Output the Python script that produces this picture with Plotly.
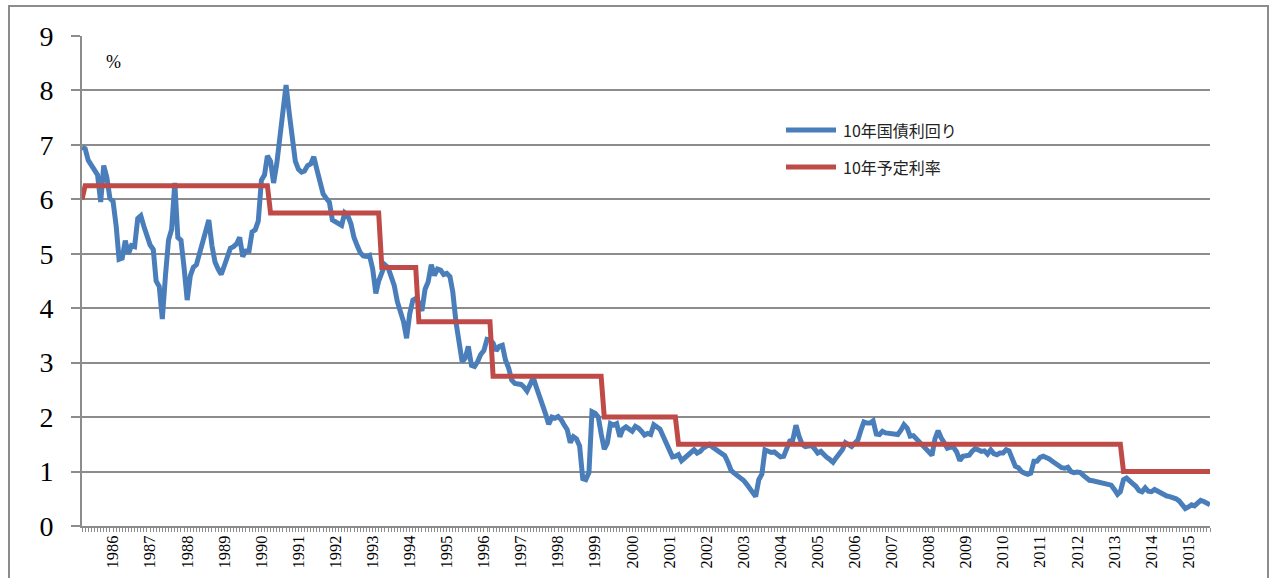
import pandas as pd
import plotly.graph_objects as go

# Monthly observations, March 1985 to August 2015
months = pd.date_range("1985-03-01", "2015-08-01", freq="MS")

# 10-year JGB yield (%), monthly
jgb_10y = [
    # 1985 (Mar-Dec)
    6.95, 6.93, 6.72, 6.63, 6.55, 6.45, 5.95, 6.62, 6.40, 6.02,
    # 1986
    5.96, 5.50, 4.90, 4.92, 5.24, 5.00, 5.15, 5.13, 5.65, 5.70, 5.50, 5.34,
    # 1987
    5.16, 5.08, 4.50, 4.40, 3.80, 4.60, 5.25, 5.45, 6.30, 5.30, 5.25, 4.75,
    # 1988
    4.15, 4.60, 4.75, 4.80, 5.00, 5.15, 5.40, 5.62, 5.15, 4.85, 4.72, 4.62,
    # 1989
    4.78, 4.92, 5.10, 5.13, 5.18, 5.30, 4.95, 5.05, 5.05, 5.40, 5.44, 5.60,
    # 1990
    6.35, 6.45, 6.80, 6.70, 6.30, 6.65, 7.10, 7.60, 8.10, 7.60, 7.10, 6.70,
    # 1991
    6.55, 6.50, 6.52, 6.62, 6.65, 6.78, 6.55, 6.35, 6.10, 6.02, 5.95, 5.62,
    # 1992
    5.59, 5.57, 5.52, 5.75, 5.70, 5.55, 5.30, 5.15, 5.02, 4.96, 4.95, 4.97,
    # 1993
    4.72, 4.27, 4.50, 4.65, 4.80, 4.75, 4.55, 4.42, 4.12, 3.96, 3.75, 3.45,
    # 1994
    3.90, 4.15, 4.18, 4.10, 3.95, 4.35, 4.48, 4.80, 4.60, 4.72, 4.70, 4.62,
    # 1995
    4.64, 4.58, 4.30, 3.75, 3.35, 3.02, 3.08, 3.30, 2.95, 2.93, 3.02, 3.15,
    # 1996
    3.22, 3.43, 3.42, 3.36, 3.22, 3.30, 3.32, 3.05, 2.90, 2.68, 2.62, 2.62,
    # 1997
    2.60, 2.55, 2.48, 2.60, 2.73, 2.55, 2.35, 2.22, 2.05, 1.87, 2.00, 1.98,
    # 1998
    2.01, 1.95, 1.86, 1.77, 1.53, 1.64, 1.60, 1.47, 0.87, 0.85, 0.98, 2.10,
    # 1999
    2.07, 2.00, 1.70, 1.41, 1.52, 1.88, 1.85, 1.88, 1.64, 1.78, 1.82, 1.77,
    # 2000
    1.74, 1.83, 1.80, 1.74, 1.67, 1.70, 1.68, 1.86, 1.83, 1.78, 1.65, 1.52,
    # 2001
    1.36, 1.27, 1.28, 1.31, 1.20, 1.25, 1.30, 1.35, 1.40, 1.34, 1.37, 1.43,
    # 2002
    1.47, 1.50, 1.45, 1.41, 1.38, 1.34, 1.29, 1.17, 1.02, 0.97, 0.93, 0.88,
    # 2003
    0.84, 0.77, 0.70, 0.60, 0.54, 0.85, 0.95, 1.40, 1.37, 1.35, 1.36, 1.32,
    # 2004
    1.27, 1.28, 1.40, 1.56, 1.58, 1.85, 1.65, 1.50, 1.46, 1.48, 1.48, 1.42,
    # 2005
    1.34, 1.37, 1.30, 1.26, 1.22, 1.17, 1.25, 1.32, 1.40, 1.53, 1.48, 1.46,
    # 2006
    1.52, 1.58, 1.75, 1.91, 1.89, 1.89, 1.93, 1.69, 1.68, 1.74, 1.71, 1.70,
    # 2007
    1.69, 1.68, 1.68, 1.76, 1.86, 1.80, 1.65, 1.66, 1.60, 1.54, 1.49, 1.43,
    # 2008
    1.38, 1.30, 1.60, 1.75, 1.62, 1.52, 1.43, 1.45, 1.44, 1.36, 1.20, 1.28,
    # 2009
    1.28, 1.30, 1.37, 1.42, 1.40, 1.37, 1.38, 1.32, 1.40, 1.33, 1.31, 1.34,
    # 2010
    1.34, 1.40, 1.38, 1.20, 1.10, 1.07, 1.00, 0.97, 0.95, 0.97, 1.19, 1.19,
    # 2011
    1.26, 1.28, 1.26, 1.23, 1.19, 1.14, 1.10, 1.07, 1.06, 1.08, 1.00, 0.98,
    # 2012
    0.99, 0.98, 0.93, 0.88, 0.84, 0.83, 0.82, 0.80, 0.79, 0.77, 0.78, 0.75,
    # 2013
    0.67, 0.58, 0.63, 0.85, 0.88, 0.84, 0.78, 0.73, 0.65, 0.63, 0.70, 0.64,
    # 2014
    0.63, 0.67, 0.64, 0.61, 0.58, 0.55, 0.54, 0.53, 0.50, 0.46, 0.38, 0.32,
    # 2015 (Jan-Aug)
    0.35, 0.39, 0.37, 0.42, 0.47, 0.45, 0.41, 0.39,
]

# Assumed interest rate (%): month each level took effect
rate_change_months = ["1985-03", "1985-04", "1990-04", "1993-04", "1994-04",
                      "1996-04", "1999-04", "2001-04", "2013-04"]
rate_change_values = [6.0, 6.25, 5.75, 4.75, 3.75, 2.75, 2.0, 1.5, 1.0]

year_labels = [str(y) for y in range(1986, 2016)]

series_names = ["10年国債利回り", "10年予定利率"]
series_colors = ["#4a7ebb", "#be4b48"]

assert len(jgb_10y) == len(months)

assumed = pd.Series(index=months, dtype=float)
for m, v in zip(rate_change_months, rate_change_values):
    assumed[pd.Timestamp(m + "-01")] = v
assumed = assumed.ffill()

grey = "#8c8c8c"
serif = "Liberation Serif, Times New Roman, serif"

fig = go.Figure()
fig.add_trace(go.Scatter(x=months, y=jgb_10y, mode="lines", name=series_names[0],
                         line=dict(color=series_colors[0], width=5)))
fig.add_trace(go.Scatter(x=months, y=assumed.values, mode="lines", name=series_names[1],
                         line=dict(color=series_colors[1], width=5)))

W, H = 1272, 578
ml, mr, mt, mb = 82, 62, 36, 52
pw, ph = W - ml - mr, H - mt - mb


def px(xp):
    return (xp - ml) / pw


def py(yp):
    return (H - mb - yp) / ph


fig.update_layout(
    width=W, height=H,
    margin=dict(l=ml, r=mr, t=mt, b=mb, autoexpand=False),
    plot_bgcolor="white", paper_bgcolor="white",
    showlegend=False,
    xaxis=dict(
        type="date",
        automargin=False,
        range=[months[0], months[-1]],
        tickvals=[pd.Timestamp(f"{y}-01-01") for y in year_labels],
        ticktext=year_labels,
        tickangle=-90,
        ticks="outside", ticklen=4, tickcolor=grey, tickwidth=1,
        ticklabelstandoff=-3,
        tickfont=dict(family=serif, size=16.5, color="black"),
        showgrid=False, zeroline=False,
        showline=True, linecolor=grey, linewidth=2,
        minor=dict(dtick="M1", tick0="1985-03-01", ticks="outside",
                   ticklen=4, tickcolor=grey, tickwidth=1, showgrid=False),
    ),
    yaxis=dict(
        automargin=False,
        range=[0, 9], dtick=1,
        showgrid=True, gridcolor=grey, gridwidth=1.5,
        ticks="outside", ticklen=9, tickcolor=grey, tickwidth=1.5,
        ticklabelstandoff=12,
        tickfont=dict(family=serif, size=28, color="black"),
        zeroline=False,
        showline=True, linecolor=grey, linewidth=2,
    ),
)

# Unit label
fig.add_annotation(text="%", xref="paper", yref="paper", x=px(104), y=py(62),
                   xanchor="left", yanchor="middle", showarrow=False,
                   font=dict(family=serif, size=18, color="black"))

# Legend drawn inside the plot area
for i, (name, color) in enumerate(zip(series_names, series_colors)):
    yy = py(130 + 37 * i)
    fig.add_shape(type="line", xref="paper", yref="paper",
                  x0=px(786), x1=px(836), y0=yy, y1=yy,
                  line=dict(color=color, width=5))
    fig.add_annotation(text=name, xref="paper", yref="paper", x=px(841), y=yy,
                       xanchor="left", yanchor="middle", showarrow=False,
                       font=dict(family="Noto Sans CJK JP", size=16, color="#222"))

# Chart frame
fig.add_shape(type="rect", xref="paper", yref="paper",
              x0=px(9), x1=px(1268), y0=py(600), y1=py(6),
              line=dict(color=grey, width=2), layer="below")

fig.write_html("out.html")
